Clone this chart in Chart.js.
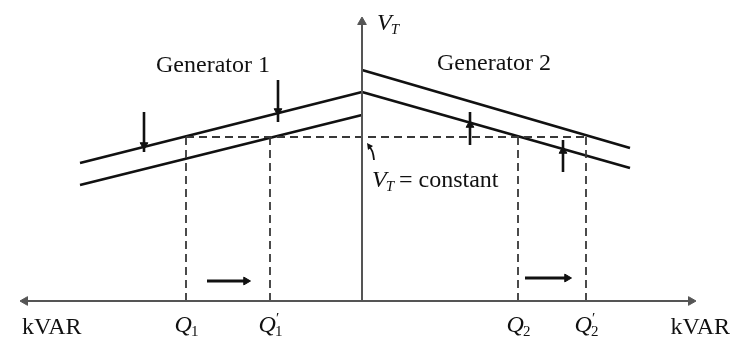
<!DOCTYPE html>
<html>
<head>
<meta charset="utf-8">
<script src="https://cdn.jsdelivr.net/npm/chart.js@4.4.0/dist/chart.umd.min.js"></script>
<style>
  body { margin: 0; background: #fff; }
  #wrap { width: 746px; height: 338px; }
</style>
</head>
<body>
<div id="wrap"><canvas id="chart"></canvas></div>
<script>
// x: kVAR measured from the V_T axis (gen 1 to the left, gen 2 to the right), y: terminal voltage
const gen1X = [-28.2, 0];
const gen1Before = [13.8, 20.9];
const gen1After = [11.6, 18.6];
const gen2X = [0, 26.8];
const gen2Before = [20.9, 13.3];
const gen2After = [23.1, 15.3];
const vtConstant = 16.4;
const qValues = [-17.6, -9.2, 15.6, 22.4];
const qSubs = ['1', '1', '2', '2'];
const qPrimed = [false, true, false, true];

// vertical arrows showing the curves being shifted
const shiftX = [-21.8, -8.4, 10.8, 20.1];
const shiftFrom = [18.9, 22.1, 15.6, 12.9];
const shiftHead = [15.6, 19.0, 17.6, 15.0];
const shiftTo = [14.9, 17.9, 18.9, 16.1];
const shiftUp = [false, false, true, true];

// horizontal arrows showing the change of reactive power
const moveY = [2.0, 2.3];
const moveFrom = [-15.5, 16.3];
const moveTo = [-11.6, 20.5];

const axisX = [-33.7, 32.9];
const axisTop = 27.9;

const ink = '#111';
const axisInk = '#555';
const dashInk = '#383838';
const serif = "'Liberation Serif', 'DejaVu Serif', serif";

function font(size, italic) {
    return (italic ? 'italic ' : '') + size + 'px ' + serif;
}

function seg(points, color, width, extra) {
    return Object.assign({
        data: points,
        borderColor: color,
        backgroundColor: color,
        pointBackgroundColor: color,
        pointBorderColor: color,
        pointBorderWidth: 1,
        borderWidth: width,
        pointRadius: 0,
        pointStyle: 'triangle',
        showLine: true,
        clip: false
    }, extra || {});
}

function pts(xs, ys) {
    return xs.map((x, i) => ({ x: x, y: ys[i] }));
}

const datasets = [];

// axes
datasets.push(seg([{ x: axisX[0], y: 0 }, { x: axisX[1], y: 0 }], axisInk, 2,
    { pointRadius: [5, 5], pointRotation: [270, 90] }));
datasets.push(seg([{ x: 0, y: 0 }, { x: 0, y: axisTop }], axisInk, 2,
    { pointRadius: [0, 5], pointRotation: [0, 0] }));

// V_T = constant and the Q drop lines
datasets.push(seg([{ x: qValues[0], y: vtConstant }, { x: qValues[3], y: vtConstant }], dashInk, 1.8,
    { borderDash: [8, 5] }));
qValues.forEach(q => {
    datasets.push(seg([{ x: q, y: vtConstant }, { x: q, y: 0 }], dashInk, 1.8, { borderDash: [8, 5] }));
});

// droop curves
datasets.push(seg(pts(gen1X, gen1Before), ink, 2.8));
datasets.push(seg(pts(gen1X, gen1After), ink, 2.8));
datasets.push(seg(pts(gen2X, gen2Before), ink, 2.8));
datasets.push(seg(pts(gen2X, gen2After), ink, 2.8));

// shift arrows
shiftX.forEach((x, i) => {
    datasets.push(seg([
        { x: x, y: shiftFrom[i] },
        { x: x, y: shiftHead[i] },
        { x: x, y: shiftTo[i] }
    ], ink, 2.6, {
        pointRadius: [0, 4.5, 0],
        pointRotation: shiftUp[i] ? 0 : 180
    }));
});

// kVAR change arrows
moveY.forEach((y, i) => {
    datasets.push(seg([{ x: moveFrom[i], y: y }, { x: moveTo[i], y: y }], ink, 3,
        { pointRadius: [0, 4.5], pointRotation: [90, 90] }));
});

function drawSymbol(ctx, px, py, main, sub, primed, subItalic, center) {
    ctx.font = font(24, true);
    const wMain = ctx.measureText(main).width;
    ctx.font = font(15, subItalic);
    const wSub = ctx.measureText(sub).width;
    const left = center ? px - (wMain + wSub) / 2 : px;
    ctx.textAlign = 'left';
    ctx.font = font(24, true);
    ctx.fillText(main, left, py);
    ctx.font = font(15, subItalic);
    ctx.fillText(sub, left + wMain - 1, py + 4);
    if (primed) {
        ctx.font = font(15, false);
        ctx.fillText('\u2032', left + wMain, py - 9);
    }
    return left + wMain + wSub;
}

const labelPlugin = {
    id: 'labels',
    afterDatasetsDraw(chart) {
        const ctx = chart.ctx;
        const xs = chart.scales.x;
        const ys = chart.scales.y;
        const X = v => xs.getPixelForValue(v);
        const Y = v => ys.getPixelForValue(v);
        ctx.save();
        ctx.fillStyle = ink;
        ctx.strokeStyle = ink;
        ctx.textBaseline = 'alphabetic';

        ctx.font = font(24, false);
        ctx.textAlign = 'center';
        ctx.fillText('Generator 1', X(-14.9), Y(22.9));
        ctx.fillText('Generator 2', X(13.2), Y(23.1));

        ctx.textAlign = 'left';
        ctx.fillText('kVAR', X(-34.0), Y(-3.3));
        ctx.textAlign = 'right';
        ctx.fillText('kVAR', X(36.8), Y(-3.3));

        drawSymbol(ctx, X(1.5), Y(27.1), 'V', 'T', false, true, false);
        const end = drawSymbol(ctx, X(1.0), Y(11.4), 'V', 'T', false, true, false);
        ctx.font = font(24, false);
        ctx.textAlign = 'left';
        ctx.fillText(' = constant', end - 2, Y(11.4));

        qValues.forEach((q, i) => {
            drawSymbol(ctx, X(q) + 1, Y(-3.1), 'Q', qSubs[i], qPrimed[i], false, true);
        });

        // pointer from the label to the V_T = constant line
        const tipX = X(0.5), tipY = Y(vtConstant) + 6;
        ctx.lineWidth = 1.8;
        ctx.beginPath();
        ctx.moveTo(X(1.2), Y(14.1));
        ctx.quadraticCurveTo(X(1.1), Y(15.2), tipX + 2, tipY + 4);
        ctx.stroke();
        ctx.beginPath();
        ctx.moveTo(tipX, tipY);
        ctx.lineTo(tipX + 6, tipY + 3);
        ctx.lineTo(tipX + 1, tipY + 7);
        ctx.closePath();
        ctx.fill();
        ctx.restore();
    }
};

new Chart(document.getElementById('chart'), {
    type: 'scatter',
    data: { datasets: datasets },
    options: {
        responsive: true,
        maintainAspectRatio: false,
        animation: false,
        layout: { padding: { left: 20, right: 50, top: 17, bottom: 37 } },
        plugins: {
            legend: { display: false },
            tooltip: { enabled: false }
        },
        scales: {
            x: { type: 'linear', min: -34.2, max: 33.4, display: false },
            y: { type: 'linear', min: 0, max: 28.4, display: false }
        }
    },
    plugins: [labelPlugin]
});
</script>
</body>
</html>
